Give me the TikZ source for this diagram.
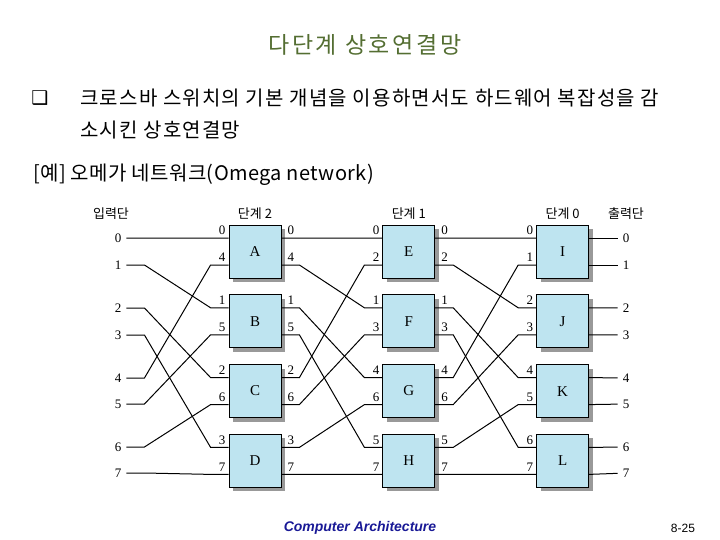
\documentclass[tikz,border=0pt]{standalone}
\usepackage{fontspec}
\setmainfont{Liberation Serif}
\newfontfamily\kr{Noto Sans CJK KR}
\newfontfamily\sym{DejaVu Sans}
\newfontfamily\foot{Liberation Sans}
\usepackage{xcolor}
\usepackage{tikz}
\usetikzlibrary{positioning, calc, shadows}

\definecolor{boxblue}{RGB}{190,228,240}
\definecolor{titlegreen}{RGB}{84,110,50}
\definecolor{footblue}{RGB}{25,25,150}

\begin{document}
\begin{tikzpicture}[
    x=1pt, y=-1pt,
    node distance=16pt and 101pt,
    sbox/.style={draw, thick, fill=boxblue, minimum width=52pt, minimum height=53pt,
      inner sep=0pt, font=\fontsize{15}{15}\selectfont,
      drop shadow={shadow xshift=4pt, shadow yshift=-4pt, fill=black!40, opacity=1}},
    plab/.style={font=\fontsize{13}{13}\selectfont, inner sep=1.5pt},
    num/.style={font=\fontsize{13}{13}\selectfont, inner sep=5pt},
    head/.style={font=\kr\fontsize{13}{13}\selectfont},
    txt/.style={anchor=west, inner sep=0pt, font=\kr\addfontfeature{LetterSpace=6}\fontsize{20}{20}\selectfont},
    wire/.style={line width=1pt},
    shuffle/.style={to path={-- ++(18,0) -- ($(\tikztotarget)+(-18,0)$) -- (\tikztotarget)}},
    label distance=2pt
]
\useasboundingbox (0,0) rectangle (720,540);

% heading and text
\node (title) [font=\kr\addfontfeature{LetterSpace=12}\fontsize{23}{23}\selectfont, text=titlegreen] at (365,45) {다단계 상호연결망};
\node (bullet) [font=\sym\fontsize{19}{19}\selectfont] at (40,98) {❑};
\node (line1) [txt] at (80,98) {크로스바 스위치의 기본 개념을 이용하면서도 하드웨어 복잡성을 감};
\node (line2) [txt] at (80,130) {소시킨 상호연결망};
\node (line3) [txt, font=\kr\addfontfeature{LetterSpace=2}\fontsize{20}{20}\selectfont] at (33,175) {[예] 오메가 네트워크(Omega network)};

% switch boxes
\node (A) [sbox] at (255,251.5) {A};
\node (B) [sbox, below=of A] {B};
\node (C) [sbox, below=of B] {C};
\node (D) [sbox, below=of C] {D};
\node (E) [sbox, right=of A] {E};
\node (F) [sbox, below=of E] {F};
\node (G) [sbox, below=of F] {G};
\node (H) [sbox, below=of G] {H};
\node (I) [sbox, right=of E] {I};
\node (J) [sbox, below=of I] {J};
\node (K) [sbox, below=of J] {K};
\node (L) [sbox, below=of K] {L};

% column heads
\node (hin) [head] at (111,214) {입력단};
\node (h2) [head] at (A |- hin) {단계 2};
\node (h1) [head] at (E |- hin) {단계 1};
\node (h0) [head] at (I |- hin) {단계 0};
\node (hout) [head] at (626,214) {출력단};

% ports
\foreach \b/\p/\q in {A/0/4,B/1/5,C/2/6,D/3/7,E/0/2,F/1/3,G/4/6,H/5/7} {
  \coordinate[label={[plab]above left:\p}] (\b-in0) at ($(\b.west)+(0,-13.5)$);
  \coordinate[label={[plab]above left:\q}] (\b-in1) at ($(\b.west)+(0,13.5)$);
  \coordinate[label={[plab, xshift=3pt]above right:\p}] (\b-out0) at ($(\b.east)+(0,-13.5)$);
  \coordinate[label={[plab, xshift=3pt]above right:\q}] (\b-out1) at ($(\b.east)+(0,13.5)$);
}
\foreach \b/\p/\q in {I/0/1,J/2/3,K/4/5,L/6/7} {
  \coordinate[label={[plab]above left:\p}] (\b-in0) at ($(\b.west)+(0,-13.5)$);
  \coordinate[label={[plab]above left:\q}] (\b-in1) at ($(\b.west)+(0,13.5)$);
  \coordinate (\b-out0) at ($(\b.east)+(0,-13.5)$);
  \coordinate (\b-out1) at ($(\b.east)+(0,13.5)$);
}

% input and output terminals
\node (in0) [num] at (118,238) {0};
\node (in1) [num] at (118,265) {1};
\node (in2) [num] at (118,308) {2};
\node (in3) [num] at (118,335) {3};
\node (in4) [num] at (118,378) {4};
\node (in5) [num] at (118,404) {5};
\node (in6) [num] at (118,447) {6};
\node (in7) [num] at (118,473) {7};
\node (out0) [num] at (626,238) {0};
\node (out1) [num] at (626,265) {1};
\node (out2) [num] at (626,308) {2};
\node (out3) [num] at (626,335) {3};
\node (out4) [num] at (626,378) {4};
\node (out5) [num] at (626,404) {5};
\node (out6) [num] at (626,447) {6};
\node (out7) [num] at (626,473) {7};

% shuffle into stage 2
\draw[wire] (in0.east) to[shuffle] (A-in0) (in4.east) to[shuffle] (A-in1);
\draw[wire] (in1.east) to[shuffle] (B-in0) (in5.east) to[shuffle] (B-in1);
\draw[wire] (in2.east) to[shuffle] (C-in0) (in6.east) to[shuffle] (C-in1);
\draw[wire] (in3.east) to[shuffle] (D-in0) (in7.east) to[shuffle] (D-in1);

% stage 2 -> stage 1
\draw[wire] (A-out0) to[shuffle] (E-in0) (A-out1) to[shuffle] (F-in0);
\draw[wire] (B-out0) to[shuffle] (G-in0) (B-out1) to[shuffle] (H-in0);
\draw[wire] (C-out0) to[shuffle] (E-in1) (C-out1) to[shuffle] (F-in1);
\draw[wire] (D-out0) to[shuffle] (G-in1) (D-out1) to[shuffle] (H-in1);

% stage 1 -> stage 0
\draw[wire] (E-out0) to[shuffle] (I-in0) (E-out1) to[shuffle] (J-in0);
\draw[wire] (F-out0) to[shuffle] (K-in0) (F-out1) to[shuffle] (L-in0);
\draw[wire] (G-out0) to[shuffle] (I-in1) (G-out1) to[shuffle] (J-in1);
\draw[wire] (H-out0) to[shuffle] (K-in1) (H-out1) to[shuffle] (L-in1);

% outputs
\draw[wire] (I-out0) -- (out0) (I-out1) -- (out1);
\draw[wire] (J-out0) -- (out2) (J-out1) -- (out3);
\draw[wire] (K-out0) -- (out4) (K-out1) -- (out5);
\draw[wire] (L-out0) -- (out6) (L-out1) -- (out7);

% footer
\node (course) [font=\foot\bfseries\itshape\fontsize{14}{14}\selectfont, text=footblue] at (360,528) {Computer Architecture};
\node (page) [font=\foot\fontsize{12}{12}\selectfont] at (683,528) {8-25};
\end{tikzpicture}
\end{document}
